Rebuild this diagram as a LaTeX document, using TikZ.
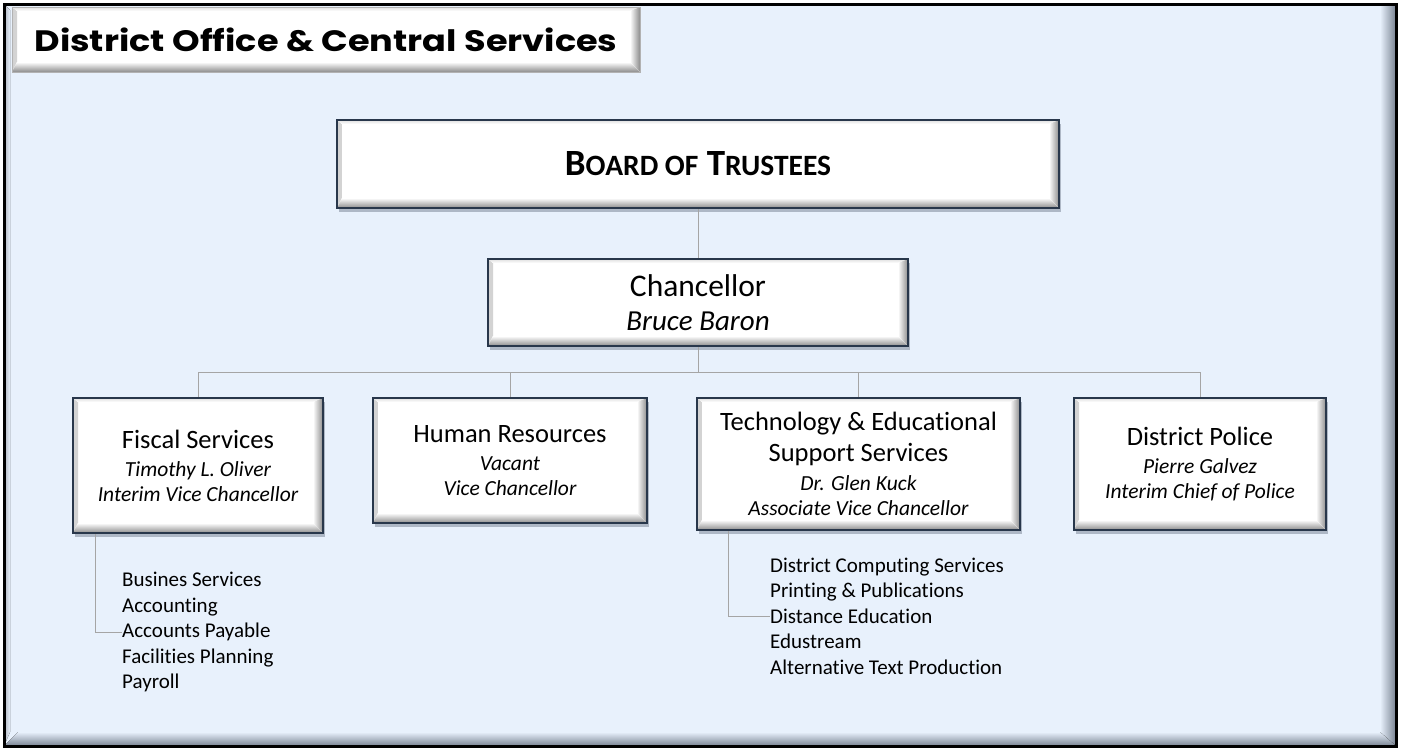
\documentclass[tikz,border=0pt]{standalone}
\usepackage{fontspec}
\setmainfont{Carlito}[Ligatures={NoCommon}]
\newfontfamily\titlefont{Poppins}
\usetikzlibrary{shadows,calc}
\definecolor{bg}{RGB}{232,241,252}
\definecolor{boxline}{RGB}{40,55,75}
\definecolor{connc}{RGB}{165,165,165}
\definecolor{bevg}{RGB}{140,140,140}
\definecolor{framebev}{RGB}{120,130,145}
\tikzset{
  bevelpic/.style={path picture={
      \fill[left color=gray!35, right color=white]
        (path picture bounding box.south west) -- (path picture bounding box.north west)
        -- ([xshift=5pt,yshift=-4pt]path picture bounding box.north west)
        -- ([xshift=5pt,yshift=10pt]path picture bounding box.south west) -- cycle;
      \fill[top color=gray!25, bottom color=white]
        (path picture bounding box.north west) -- (path picture bounding box.north east)
        -- ([xshift=-10pt,yshift=-4pt]path picture bounding box.north east)
        -- ([xshift=5pt,yshift=-4pt]path picture bounding box.north west) -- cycle;
      \fill[top color=white, bottom color=bevg]
        (path picture bounding box.south west) -- (path picture bounding box.south east)
        -- ([xshift=-10pt,yshift=10pt]path picture bounding box.south east)
        -- ([xshift=5pt,yshift=10pt]path picture bounding box.south west) -- cycle;
      \fill[left color=white, right color=bevg]
        (path picture bounding box.south east) -- (path picture bounding box.north east)
        -- ([xshift=-10pt,yshift=-4pt]path picture bounding box.north east)
        -- ([xshift=-10pt,yshift=10pt]path picture bounding box.south east) -- cycle;
  }},
  bevelbox/.style={rectangle, draw=boxline, line width=2.4pt, fill=white, inner sep=0pt,
    align=center, font=\fontsize{21.5}{25}\selectfont,
    drop shadow={shadow xshift=2pt, shadow yshift=-4pt, fill=boxline, opacity=0.3},
    bevelpic},
  tabbox/.style={rectangle, draw=gray!60, line width=0.8pt, fill=white, inner sep=0pt,
    align=center, bevelpic},
  listtext/.style={inner sep=0pt, align=left, anchor=west, font=\fontsize{21}{25.5}\selectfont},
  conn/.style={draw=connc, line width=1pt},
}
\newcommand\ttl[1]{{\fontsize{26.5}{30}\selectfont #1}}
\begin{document}
\begin{tikzpicture}[x=1pt,y=-1pt]
\useasboundingbox (0,0) rectangle (1405,748);
\fill[white] (0,0) rectangle (1405,748);
% frame
\fill[bg] (4,4) rectangle (1396,746);
\fill[left color=bg, right color=framebev] (1380,4) -- (1396,4) -- (1396,746) -- (1380,732) -- cycle;
\fill[top color=bg, bottom color=framebev] (4,746) -- (1396,746) -- (1380,732) -- (18,732) -- cycle;
\fill[left color=framebev!60, right color=bg] (4,4) -- (10,10) -- (10,732) -- (4,746) -- cycle;
\draw[black, line width=3pt] (4,4) rectangle (1396,746);

% title tab
\node[tabbox, minimum width=628pt, minimum height=65pt] (tab) at (326,39.5)
  {\scalebox{1.19}[1]{\titlefont\bfseries\fontsize{29.5}{32}\selectfont District Office \& Central Services}};

% boxes
\node[bevelbox, minimum width=722pt, minimum height=88pt] (board) at (698,164)
  {\raisebox{-3pt}{\bfseries\fontsize{37}{40}\selectfont B{\fontsize{29.5}{40}\selectfont OARD OF} T{\fontsize{29.5}{40}\selectfont RUSTEES}}};
\node[bevelbox, minimum width=420pt, minimum height=87pt] (chan) at (698,302.5)
  {{\fontsize{31.5}{36}\selectfont Chancellor}\\[9pt]{\fontsize{29}{33}\selectfont\itshape Bruce Baron}};
\node[bevelbox, minimum width=250pt, minimum height=135pt] (fis) at (198,465.5)
  {\ttl{Fiscal Services}\\[3pt]\itshape Timothy L. Oliver\\\itshape Interim Vice Chancellor};
\node[bevelbox, minimum width=274pt, minimum height=125pt] (hr) at (510,460.5)
  {\ttl{Human Resources}\\[3pt]\itshape Vacant\\\itshape Vice Chancellor};
\node[bevelbox, minimum width=323pt, minimum height=132pt] (tech) at (858.5,464)
  {\ttl{Technology \& Educational}\\[6pt]\ttl{Support Services}\\[4pt]\itshape Dr. Glen Kuck\\\itshape Associate Vice Chancellor};
\node[bevelbox, minimum width=252pt, minimum height=132pt] (pol) at (1200,464)
  {\ttl{District Police}\\[3pt]\itshape Pierre Galvez\\\itshape Interim Chief of Police};

% sub lists
\node[listtext] (fislist) at (122,632)
  {Busines Services\\Accounting\\Accounts Payable\\Facilities Planning\\Payroll};
\node[listtext] (techlist) at (770,616)
  {District Computing Services\\Printing \& Publications\\Distance Education\\Edustream\\Alternative Text Production};

% connectors
\coordinate (bus) at (698,372);
\draw[conn] (board.south) -- (chan.north);
\draw[conn] (chan.south) -- (bus);
\draw[conn] (fis.north) |- (bus) -| (pol.north);
\draw[conn] (hr.north) -- (hr.north |- bus);
\draw[conn] (tech.north) -- (tech.north |- bus);
\draw[conn] ([xshift=24pt]fis.south west) |- (fislist.west);
\draw[conn] ([xshift=33pt]tech.south west) |- (techlist.west);
\end{tikzpicture}
\end{document}
